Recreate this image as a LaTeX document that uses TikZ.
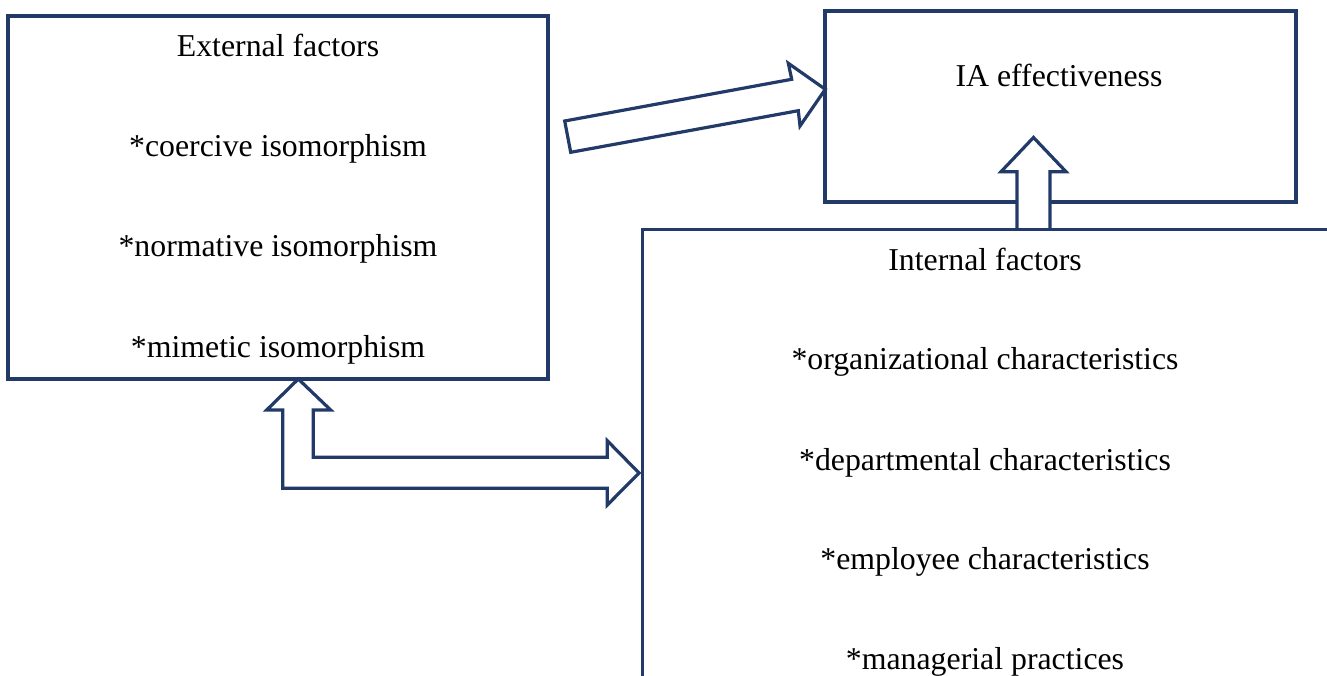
\documentclass[tikz,border=0pt]{standalone}
\usepackage{fontspec}
\setmainfont{Liberation Serif}
\definecolor{navy}{RGB}{34,58,104}
\begin{document}
\begin{tikzpicture}[x=1pt,y=-1pt,
  boxline/.style={draw=navy,line width=3.2pt},
  blockarrow/.style={draw=navy,line width=3.2pt,fill=white,line join=miter},
  lbl/.style={anchor=base,inner sep=0pt,font=\fontsize{31.8}{38}\selectfont,text=black}]
\useasboundingbox (0,0) rectangle (1327,676);
\fill[white] (0,0) rectangle (1327,676);
% boxes
\node[boxline,rectangle,minimum width=540pt,minimum height=363pt,inner sep=0pt] (ext) at (278,197.5) {};
\node[boxline,rectangle,minimum width=471pt,minimum height=191pt,inner sep=0pt] (ia) at (1060.5,106.5) {};
\node[boxline,rectangle,minimum width=720pt,minimum height=520pt,inner sep=0pt,anchor=north west] (int) at (641,228) {};
% texts
\node[lbl] (t1) at (278,57) {External factors};
\node[lbl] (t2) at (278,157) {*coercive isomorphism};
\node[lbl] (t3) at (278,257) {*normative isomorphism};
\node[lbl] (t4) at (278,357) {*mimetic isomorphism};
\node[lbl] (t5) at (1059,87) {IA effectiveness};
\node[lbl] (t6) at (985,270) {Internal factors};
\node[lbl] (t7) at (985,369) {*organizational characteristics};
\node[lbl] (t8) at (985,470) {*departmental characteristics};
\node[lbl] (t9) at (985,569) {*employee characteristics};
\node[lbl] (t10) at (985,669) {*managerial practices};
% block arrows
\draw[blockarrow] (564.7,121) -- (791.7,79.3) -- (788.3,63.3) -- (825.3,89.3) -- (800,126) -- (798.3,110.7) -- (570.7,152.3) -- cycle;
\draw[blockarrow] (1017,228) -- (1017,171.7) -- (1001,171.7) -- (1033.5,137.5) -- (1066,171.7) -- (1050,171.7) -- (1050,228);
\draw[blockarrow] (298.3,379) -- (330.7,410) -- (313.3,410) -- (313.3,457.3) -- (607.3,457.3) -- (607.3,440.7) -- (639,473) -- (607.3,505) -- (607.3,488.3) -- (282.7,488.3) -- (282.7,410) -- (266.7,410) -- cycle;
\end{tikzpicture}
\end{document}
